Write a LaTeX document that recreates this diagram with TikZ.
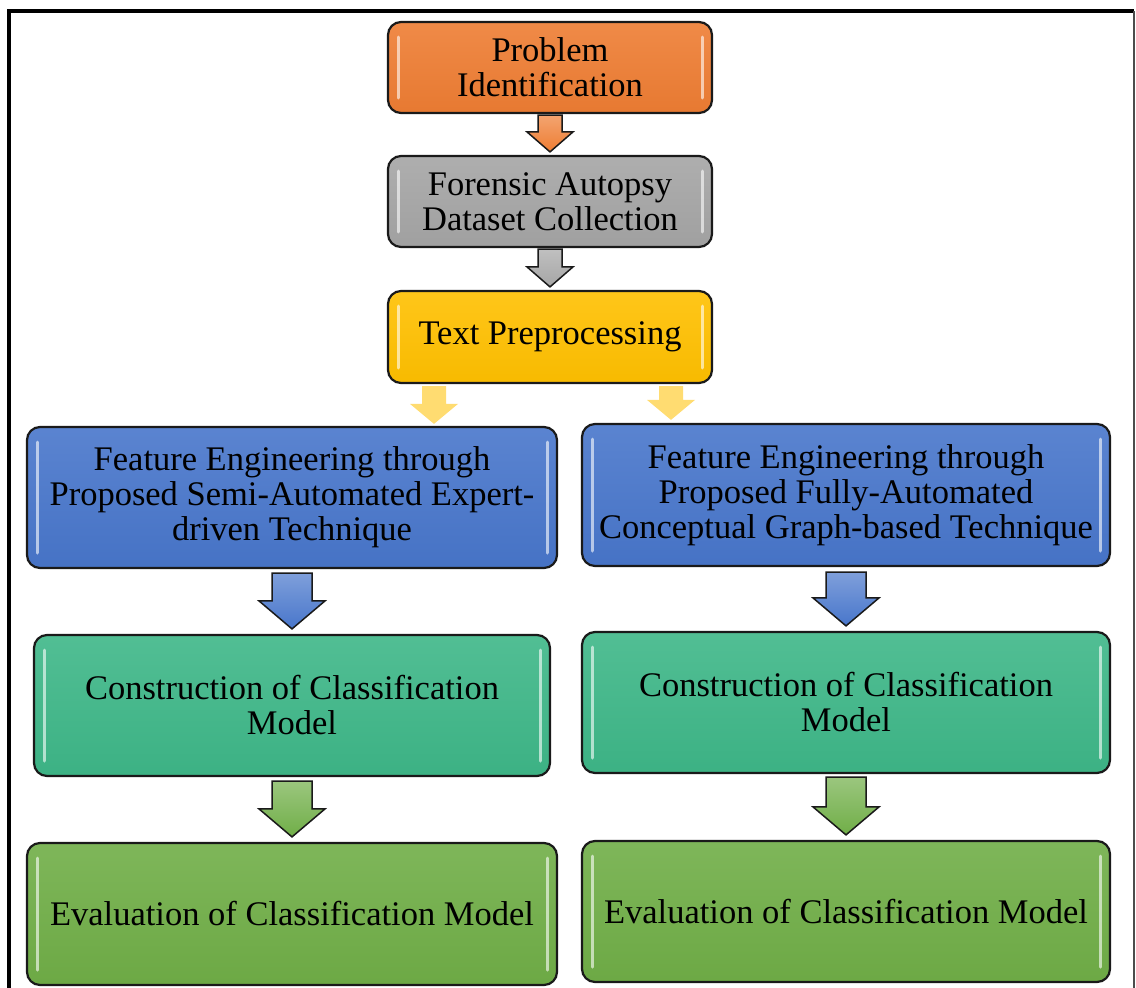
\documentclass[tikz,border=0pt]{standalone}
\usepackage{fontspec}
\setmainfont{Liberation Serif}
\usetikzlibrary{calc}

\definecolor{probc}{HTML}{EE7D33}
\definecolor{grayc}{HTML}{A5A5A5}
\definecolor{yelc}{HTML}{FFC000}
\definecolor{bluec}{HTML}{4876CB}
\definecolor{tealc}{HTML}{3EB788}
\definecolor{leafc}{HTML}{70AE47}
\definecolor{edgec}{HTML}{1A1A1A}

\tikzset{
  % glossy rounded process box
  stage/.style={draw=edgec, line width=2.2pt, rounded corners=13pt,
    align=center, inner sep=0pt, text=black,
    font=\fontsize{34.5pt}{35pt}\selectfont,
    top color=#1!90!white, bottom color=#1!97!black,
    path picture={
      \draw[white, opacity=.6, line width=3pt, line cap=round]
        ([shift={(10pt,-15pt)}]path picture bounding box.north west) --
        ([shift={(10pt,15pt)}]path picture bounding box.south west);
      \draw[white, opacity=.6, line width=3pt, line cap=round]
        ([shift={(-10pt,-15pt)}]path picture bounding box.north east) --
        ([shift={(-10pt,15pt)}]path picture bounding box.south east);
    }},
  % downward block arrow between two points: shaft half width, head half width, head length
  blockto/.style n args={3}{to path={let \p1=(\tikztostart), \p2=(\tikztotarget) in
    (\x1-#1,\y1) -- (\x1+#1,\y1) -- (\x1+#1,\y2+#3) -- (\x1+#2,\y2+#3) --
    (\x1,\y2) -- (\x1-#2,\y2+#3) -- (\x1-#1,\y2+#3) -- cycle}},
  thinarrow/.style={draw=edgec, line width=1.5pt, line join=miter,
    top color=#1!70!white, bottom color=#1, blockto={12pt}{23pt}{20pt}},
  widearrow/.style={draw=edgec, line width=1.5pt, line join=miter,
    top color=#1!70!white, bottom color=#1, blockto={20pt}{33pt}{28pt}},
  softarrow/.style={fill=yelc!65!white, fill opacity=.85, draw=none,
    blockto={12pt}{24pt}{20pt}}
}

\begin{document}
\begin{tikzpicture}[x=1pt, y=-1pt]
  \useasboundingbox (0,0) rectangle (1136,988);
  \fill[white] (0,0) rectangle (1136,988);

  % outer frame
  \draw[line width=4pt] (9,990) |- (1134,11);
  \draw[line width=1.6pt, black!70] (1134,11) -- (1134,990);

  % process boxes
  \node[stage=probc, minimum width=324pt, minimum height=91pt] (prob) at (550,67.5)
    {Problem\\Identification};
  \node[stage=grayc, minimum width=324pt, minimum height=91pt] (fore) at (550,201.5)
    {Forensic Autopsy\\Dataset Collection};
  \node[stage=yelc, minimum width=324pt, minimum height=92pt] (txt) at (550,337)
    {Text Preprocessing};

  \node[stage=bluec, minimum width=530pt, minimum height=141pt] (blueL) at (292,497.5)
    {Feature Engineering through\\Proposed Semi-Automated Expert-\\driven Technique};
  \node[stage=bluec, minimum width=528pt, minimum height=142pt] (blueR) at (846,495)
    {Feature Engineering through\\Proposed Fully-Automated\\Conceptual Graph-based Technique};

  \node[stage=tealc, minimum width=516pt, minimum height=141pt] (tealL) at (292,705.5)
    {Construction of Classification\\Model};
  \node[stage=tealc, minimum width=528pt, minimum height=141pt] (tealR) at (846,702.5)
    {Construction of Classification\\Model};

  \node[stage=leafc, minimum width=530pt, minimum height=142pt] (leafL) at (292,914)
    {Evaluation of Classification Model};
  \node[stage=leafc, minimum width=528pt, minimum height=141pt] (leafR) at (846,911.5)
    {Evaluation of Classification Model};

  % flow arrows
  \draw[thinarrow=probc] ([yshift=-1pt]prob.south) to ([yshift=3pt]fore.north);
  \draw[thinarrow=grayc] ([yshift=-1pt]fore.south) to ([yshift=3pt]txt.north);

  \draw[softarrow] ([xshift=-116pt,yshift=-2pt]txt.south) to ([yshift=2pt]blueL.north);
  \draw[softarrow] ([xshift=121pt,yshift=-2pt]txt.south) to ([yshift=3pt]blueR.north);

  \draw[widearrow=bluec] ([yshift=-4pt]blueL.south) to ([yshift=5pt]tealL.north);
  \draw[widearrow=bluec] ([yshift=-5pt]blueR.south) to ([yshift=5pt]tealR.north);

  \draw[widearrow=leafc] ([yshift=-4pt]tealL.south) to ([yshift=5pt]leafL.north);
  \draw[widearrow=leafc] ([yshift=-3pt]tealR.south) to ([yshift=5pt]leafR.north);
\end{tikzpicture}
\end{document}
